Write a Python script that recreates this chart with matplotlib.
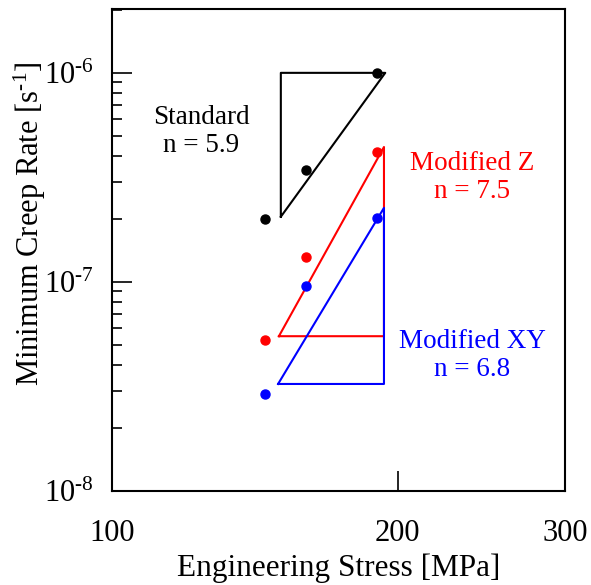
import matplotlib
matplotlib.use("Agg")
import matplotlib.pyplot as plt
from matplotlib.ticker import LogLocator, NullLocator, FixedLocator, FixedFormatter, NullFormatter

plt.rcParams['font.family'] = ['Liberation Serif', 'DejaVu Serif']
plt.rcParams['mathtext.fontset'] = 'custom'
plt.rcParams['mathtext.rm'] = 'Liberation Serif'
plt.rcParams['mathtext.it'] = 'Liberation Serif:italic'

# Data
stress = [145, 160, 190]
standard_rate = [2.0e-7, 3.43e-7, 1.0e-6]
modz_rate = [5.3e-8, 1.32e-7, 4.19e-7]
modxy_rate = [2.92e-8, 9.6e-8, 2.02e-7]

# Slope triangles (vertices)
std_tri_x = [150.6, 150.6, 194.0, 150.6]
std_tri_y = [2.05e-7, 1.0e-6, 1.0e-6, 2.05e-7]
modz_tri_x = [149.9, 193.4, 193.4, 149.9]
modz_tri_y = [5.5e-8, 4.42e-7, 5.5e-8, 5.5e-8]
modxy_tri_x = [149.6, 193.4, 193.4, 149.6]
modxy_tri_y = [3.25e-8, 2.26e-7, 3.25e-8, 3.25e-8]

x_ticks = [100, 200, 300]
x_ticklabels = ['100', '200', '300']
y_ticks = [1e-8, 1e-7, 1e-6]
y_ticklabels = [r'10$^{\text{-}8}$', r'10$^{\text{-}7}$', r'10$^{\text{-}6}$']

fig = plt.figure(figsize=(5.91, 5.85), dpi=100)
ax = fig.add_axes([0.1895, 0.1607, 0.7665, 0.8239])

ax.plot(std_tri_x, std_tri_y, color='black', lw=1.5)
ax.plot(modz_tri_x, modz_tri_y, color='red', lw=1.5)
ax.plot(modxy_tri_x, modxy_tri_y, color='blue', lw=1.5)

ax.plot(stress, standard_rate, 'o', color='black', ms=6.5, zorder=5)
ax.plot(stress, modz_rate, 'o', color='red', ms=6.5, zorder=5)
ax.plot(stress, modxy_rate, 'o', color='blue', ms=6.5, zorder=5)

ax.set_xscale('log')
ax.set_yscale('log')
ax.set_xlim(100, 300)
ax.set_ylim(1e-8, 2.02e-6)

ax.xaxis.set_major_locator(FixedLocator(x_ticks))
ax.xaxis.set_major_formatter(FixedFormatter(x_ticklabels))
ax.xaxis.set_minor_locator(NullLocator())
ax.xaxis.set_minor_formatter(NullFormatter())

ax.yaxis.set_major_locator(FixedLocator(y_ticks))
ax.yaxis.set_major_formatter(FixedFormatter(y_ticklabels))
ax.yaxis.set_minor_locator(LogLocator(base=10, subs=range(2, 10)))
ax.yaxis.set_minor_formatter(NullFormatter())

ax.tick_params(axis='both', which='major', direction='in', length=14.5, width=1.2,
               labelsize=22, top=False, right=False)
ax.tick_params(axis='x', which='major', pad=20)
ax.tick_params(axis='y', which='major', pad=13)
ax.tick_params(axis='y', which='minor', direction='in', length=7.5, width=1.2, right=False)

for s in ax.spines.values():
    s.set_linewidth(1.5)

ax.set_xlabel('Engineering Stress [MPa]', fontsize=22.5, labelpad=4)
ax.set_ylabel(r'Minimum Creep Rate [s$^{\text{-}1}$]', fontsize=22)
ax.yaxis.set_label_coords(-0.142, 0.554)

ax.text(124.1, 5.22e-7, 'Standard\nn = 5.9', color='black', fontsize=19.5,
        ha='center', va='center', linespacing=1.15)
ax.text(239.3, 3.15e-7, 'Modified Z\nn = 7.5', color='red', fontsize=19.5,
        ha='center', va='center', linespacing=1.15)
ax.text(239.7, 4.43e-8, 'Modified XY\nn = 6.8', color='blue', fontsize=19.5,
        ha='center', va='center', linespacing=1.15)

fig.savefig('out.png', dpi=100)
